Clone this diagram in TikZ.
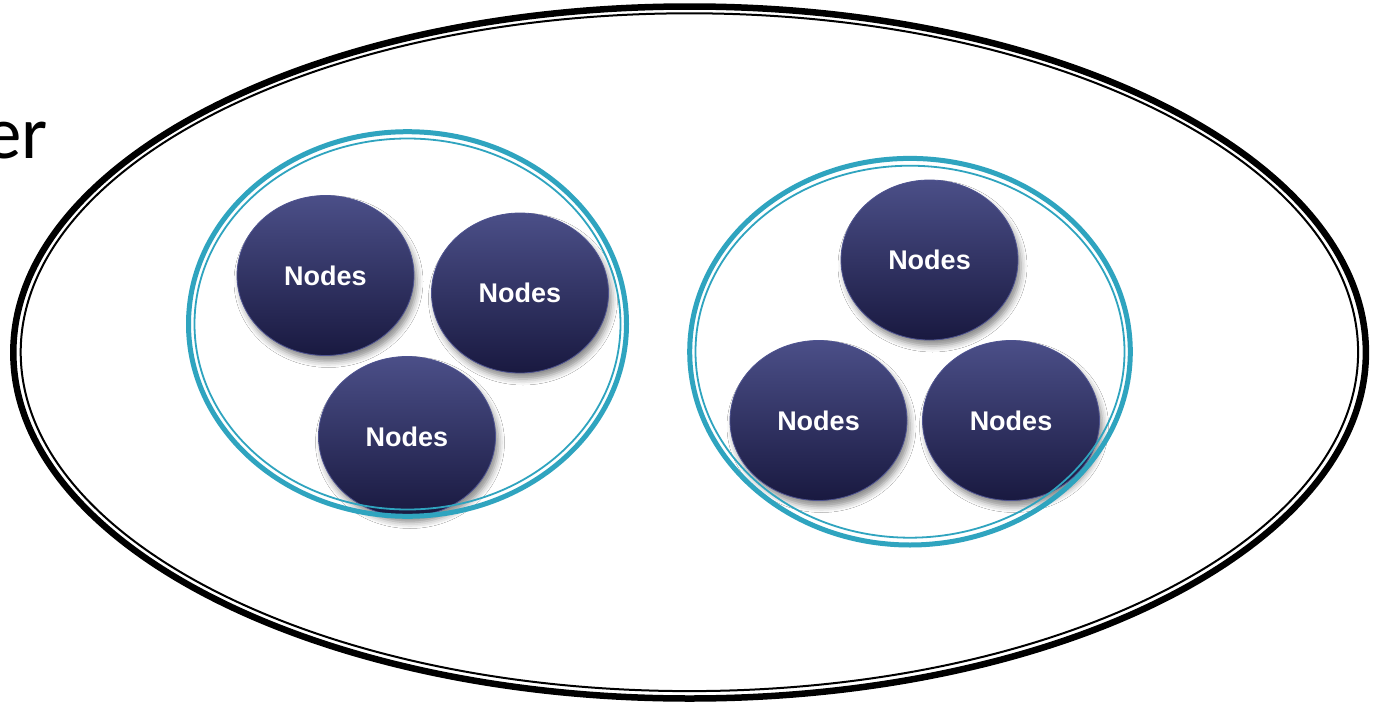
\documentclass[tikz,border=0pt]{standalone}
\usepackage{fontspec}
\setmainfont{Liberation Sans}
\newfontfamily\labelfont{Carlito}
\usetikzlibrary{shapes.geometric,shadows.blur}

\definecolor{ringteal}{HTML}{2FA4BF}
\definecolor{nodetop}{HTML}{4B4F88}
\definecolor{nodebottom}{HTML}{191940}
\definecolor{nodeedge}{HTML}{4E5390}

\tikzset{
  member/.style={ellipse, minimum width=177pt, minimum height=160pt, inner sep=0pt,
    top color=nodetop, bottom color=nodebottom, draw=nodeedge, line width=0.8pt,
    text=white, font=\bfseries\fontsize{27}{30}\selectfont,
    blur shadow={shadow xshift=3pt, shadow yshift=-6pt, shadow opacity=45, shadow blur radius=6pt}},
  ringthick/.style={draw=ringteal, line width=5pt},
  ringthin/.style={draw=ringteal, line width=1.8pt},
  outerthick/.style={draw=black, line width=6.5pt},
  outerthin/.style={draw=black, line width=2pt}
}

\begin{document}
\begin{tikzpicture}[x=1pt,y=-1pt]
\useasboundingbox (0,0) rectangle (1376,704);
\fill[white] (0,0) rectangle (1376,704);

% outer boundary (double line)
\draw[outerthick] (689.6,352.5) ellipse [x radius=676.3, y radius=346];
\draw[outerthin] (689.4,352.2) ellipse [x radius=668.7, y radius=338.9];

% partially visible title
\node[anchor=base east, inner sep=0pt, font=\labelfont\fontsize{75}{90}\selectfont] (title) at (48,158) {Cluster};

% members of the left group
\node[member] (n1) at (325.5,275.5) {Nodes};
\node[member] (n2) at (520,293) {Nodes};
\node[member] (n3) at (407,436.5) {Nodes};

% members of the right group
\node[member] (n4) at (929.5,260) {Nodes};
\node[member] (n5) at (818.5,420.5) {Nodes};
\node[member] (n6) at (1011,420.5) {Nodes};

% group rings (double teal line)
\draw[ringthick] (407.5,324) ellipse [x radius=219, y radius=192.3];
\draw[ringthin] (407.5,324) ellipse [x radius=213, y radius=185.5];
\draw[ringthick] (910,351.7) ellipse [x radius=220.3, y radius=193.3];
\draw[ringthin] (910,351.7) ellipse [x radius=214.5, y radius=186];
\end{tikzpicture}
\end{document}
